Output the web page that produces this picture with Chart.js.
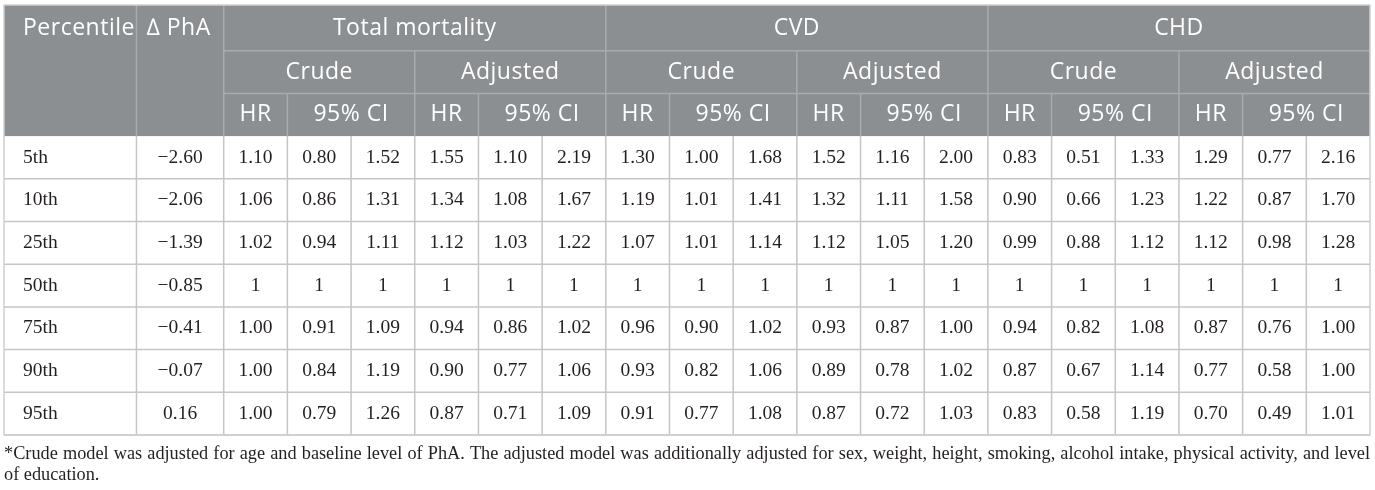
<!DOCTYPE html>
<html>
<head>
<meta charset="utf-8">
<script src="https://cdn.jsdelivr.net/npm/chart.js@4.4.1/dist/chart.umd.min.js"></script>
<style>
  html, body { margin: 0; padding: 0; background: #ffffff; }
  #wrap { width: 1375px; height: 490px; }
</style>
</head>
<body>
<div id="wrap"><canvas id="hrTable" width="1375" height="490"></canvas></div>
<script>
// ---- table content ----
const percentiles = ["5th", "10th", "25th", "50th", "75th", "90th", "95th"];
const deltaPhA = [-2.60, -2.06, -1.39, -0.85, -0.41, -0.07, 0.16];
const referenceRow = "50th";

const outcomes = ["Total mortality", "CVD", "CHD"];
const models = ["Crude", "Adjusted"];
const statLabels = ["HR", "95% CI"];

const totalCrudeHR = [1.10, 1.06, 1.02, 1, 1.00, 1.00, 1.00];
const totalCrudeLow = [0.80, 0.86, 0.94, 1, 0.91, 0.84, 0.79];
const totalCrudeHigh = [1.52, 1.31, 1.11, 1, 1.09, 1.19, 1.26];
const totalAdjHR = [1.55, 1.34, 1.12, 1, 0.94, 0.90, 0.87];
const totalAdjLow = [1.10, 1.08, 1.03, 1, 0.86, 0.77, 0.71];
const totalAdjHigh = [2.19, 1.67, 1.22, 1, 1.02, 1.06, 1.09];

const cvdCrudeHR = [1.30, 1.19, 1.07, 1, 0.96, 0.93, 0.91];
const cvdCrudeLow = [1.00, 1.01, 1.01, 1, 0.90, 0.82, 0.77];
const cvdCrudeHigh = [1.68, 1.41, 1.14, 1, 1.02, 1.06, 1.08];
const cvdAdjHR = [1.52, 1.32, 1.12, 1, 0.93, 0.89, 0.87];
const cvdAdjLow = [1.16, 1.11, 1.05, 1, 0.87, 0.78, 0.72];
const cvdAdjHigh = [2.00, 1.58, 1.20, 1, 1.00, 1.02, 1.03];

const chdCrudeHR = [0.83, 0.90, 0.99, 1, 0.94, 0.87, 0.83];
const chdCrudeLow = [0.51, 0.66, 0.88, 1, 0.82, 0.67, 0.58];
const chdCrudeHigh = [1.33, 1.23, 1.12, 1, 1.08, 1.14, 1.19];
const chdAdjHR = [1.29, 1.22, 1.12, 1, 0.87, 0.77, 0.70];
const chdAdjLow = [0.77, 0.87, 0.98, 1, 0.76, 0.58, 0.49];
const chdAdjHigh = [2.16, 1.70, 1.28, 1, 1.00, 1.00, 1.01];

const footnote = "*Crude model was adjusted for age and baseline level of PhA. The adjusted model was additionally adjusted for sex, weight, height, smoking, alcohol intake, physical activity, and level of education.";

// value columns left to right, 18 of them
const valueColumns = [
  totalCrudeHR, totalCrudeLow, totalCrudeHigh, totalAdjHR, totalAdjLow, totalAdjHigh,
  cvdCrudeHR, cvdCrudeLow, cvdCrudeHigh, cvdAdjHR, cvdAdjLow, cvdAdjHigh,
  chdCrudeHR, chdCrudeLow, chdCrudeHigh, chdAdjHR, chdAdjLow, chdAdjHigh,
];

// ---- layout (x in value-column units, y in row units) ----
const X_LEFT = -3.45;      // table left edge
const X_DELTA = -1.37;     // start of the delta PhA column
const HEADER_ROWS = 3;

const HEADER_FILL = "#8b8f92";
const HEADER_LINE = "#a8acaf";
const BODY_LINE = "#c5c5c5";
const BODY_TEXT = "#231f20";
const HEADER_FONT = '400 23px "Open Sans"';
const BODY_FONT = '19.5px "Liberation Serif"';
const NOTE_FONT = '18.3px "Liberation Serif"';

function formatHR(value, row) {
  return percentiles[row] === referenceRow ? String(value) : value.toFixed(2);
}

function formatDelta(value) {
  const s = Math.abs(value).toFixed(2);
  return value < 0 ? "\u2212" + s : s;
}

function line(ctx, x1, y1, x2, y2) {
  ctx.beginPath();
  ctx.moveTo(x1, y1);
  ctx.lineTo(x2, y2);
  ctx.stroke();
}

/**
 * Draws the header band, grid and all cell text through the chart scales
 */
const tablePlugin = {
  id: "tableCells",
  afterDraw(chart) {
    const { ctx } = chart;
    const px = v => chart.scales.x.getPixelForValue(v);
    const py = v => chart.scales.y.getPixelForValue(v);
    const bodyRows = percentiles.length;
    const lastRow = HEADER_ROWS + bodyRows;
    const top = py(0) - 3;

    ctx.save();

    // header band
    ctx.fillStyle = HEADER_FILL;
    ctx.fillRect(px(X_LEFT), top, px(18) - px(X_LEFT), py(HEADER_ROWS) - top);

    // header grid
    ctx.strokeStyle = HEADER_LINE;
    ctx.lineWidth = 1.5;
    line(ctx, px(0), py(1), px(18), py(1));
    line(ctx, px(0), py(2), px(18), py(2));
    [X_DELTA, 0, 6, 12].forEach(c => line(ctx, px(c), top, px(c), py(3)));
    [3, 9, 15].forEach(c => line(ctx, px(c), py(1), px(c), py(3)));
    [1, 4, 7, 10, 13, 16].forEach(c => line(ctx, px(c), py(2), px(c), py(3)));

    // body grid
    ctx.strokeStyle = BODY_LINE;
    for (let r = HEADER_ROWS + 1; r <= lastRow; r++) {
      line(ctx, px(X_LEFT), py(r), px(18), py(r));
    }
    const bodyCols = [X_DELTA];
    for (let c = 0; c < 18; c++) bodyCols.push(c);
    bodyCols.forEach(c => line(ctx, px(c), py(HEADER_ROWS), px(c), py(lastRow)));

    // outer border
    ctx.strokeStyle = "#cfcfcf";
    ctx.strokeRect(px(X_LEFT), top, px(18) - px(X_LEFT), py(lastRow) - top);

    // header text
    ctx.fillStyle = "#ffffff";
    ctx.font = HEADER_FONT;
    ctx.letterSpacing = "0.5px";
    ctx.textBaseline = "middle";
    ctx.textAlign = "left";
    ctx.fillText("Percentile", px(X_LEFT) + 19, py(0.5) - 1);
    ctx.fillText("\u2206 PhA", px(X_DELTA) + 10, py(0.5) - 1);
    ctx.textAlign = "center";
    outcomes.forEach((name, i) => {
      ctx.fillText(name, px(i * 6 + 3), py(0.5) - 1);
      models.forEach((m, j) => {
        const c0 = i * 6 + j * 3;
        ctx.fillText(m, px(c0 + 1.5), py(1.5));
        ctx.fillText(statLabels[0], px(c0 + 0.5), py(2.5));
        ctx.fillText(statLabels[1], px(c0 + 2), py(2.5));
      });
    });
    ctx.letterSpacing = "0px";

    // body text
    ctx.fillStyle = BODY_TEXT;
    ctx.font = BODY_FONT;
    percentiles.forEach((p, r) => {
      const yc = py(HEADER_ROWS + r + 0.5);
      ctx.textAlign = "left";
      ctx.fillText(p, px(X_LEFT) + 19, yc);
      ctx.textAlign = "center";
      ctx.fillText(formatDelta(deltaPhA[r]), px((X_DELTA + 0) / 2), yc);
      valueColumns.forEach((col, c) => {
        ctx.fillText(formatHR(col[r], r), px(c + 0.5), yc);
      });
    });

    // footnote, justified on the first line
    ctx.font = NOTE_FONT;
    ctx.textAlign = "left";
    const left = px(X_LEFT);
    const width = px(18) - left;
    const words = footnote.split(" ");
    const lines = [];
    let cur = [];
    words.forEach(w => {
      const trial = cur.concat(w).join(" ");
      if (ctx.measureText(trial).width > width && cur.length) {
        lines.push(cur);
        cur = [w];
      } else {
        cur.push(w);
      }
    });
    lines.push(cur);
    lines.forEach((ws, li) => {
      const y = py(lastRow) + 19 + li * 21.5;
      if (li < lines.length - 1 && ws.length > 1) {
        const used = ws.reduce((s, w) => s + ctx.measureText(w).width, 0);
        const gap = (width - used) / (ws.length - 1);
        let x = left;
        ws.forEach(w => {
          ctx.fillText(w, x, y);
          x += ctx.measureText(w).width + gap;
        });
      } else {
        ctx.fillText(ws.join(" "), left, y);
      }
    });

    ctx.restore();
  },
};

function renderTable() {
  const canvas = document.getElementById("hrTable");
  const ctx = canvas.getContext("2d");
  new Chart(ctx, {
    type: "scatter",
    data: { datasets: [] },
    options: {
      responsive: false,
      animation: false,
      layout: { padding: { left: 4, right: 5, top: 8, bottom: 55 } },
      plugins: { legend: { display: false }, tooltip: { enabled: false } },
      scales: {
        x: { type: "linear", min: X_LEFT, max: 18, display: false },
        y: { type: "linear", min: 0, max: HEADER_ROWS + percentiles.length, reverse: true, display: false },
      },
    },
    plugins: [tablePlugin],
  });
}

renderTable();
</script>
</body>
</html>
